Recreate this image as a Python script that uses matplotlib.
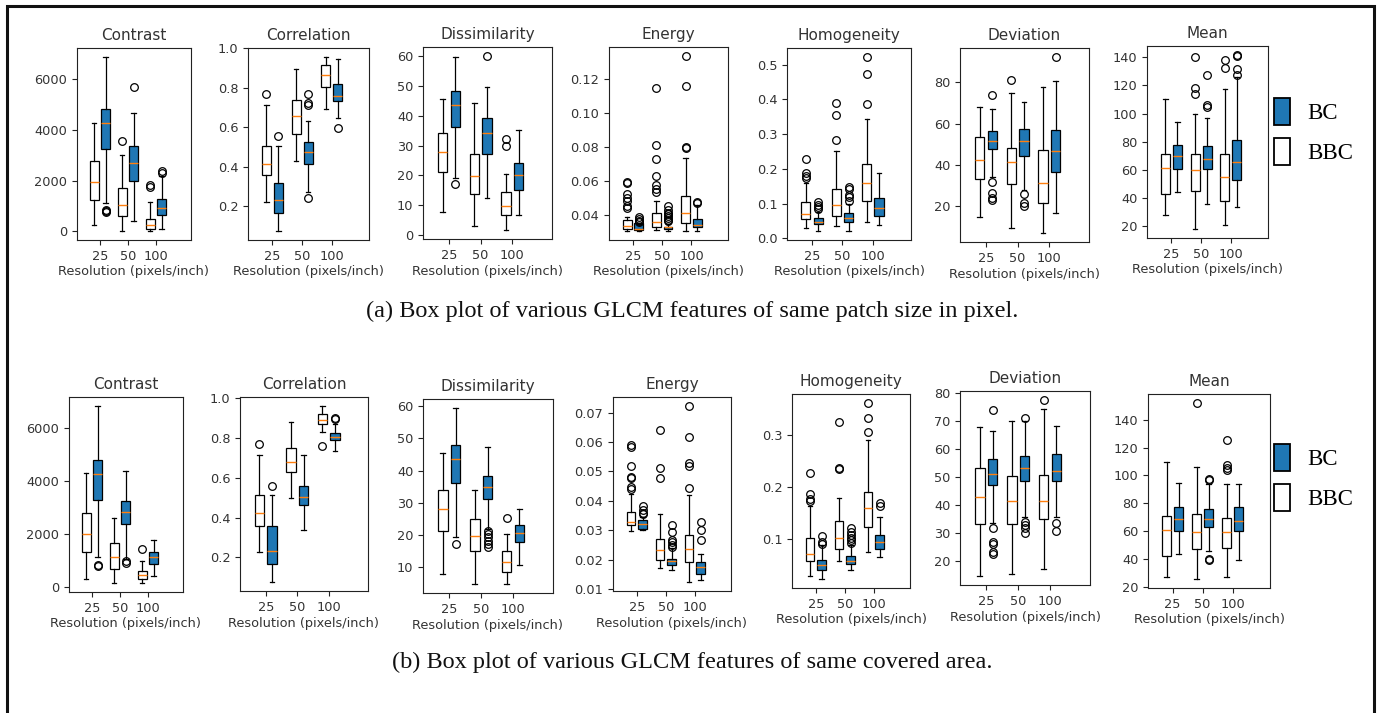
import matplotlib
matplotlib.use("Agg")
import matplotlib.pyplot as plt
from matplotlib.patches import Patch, Rectangle
from matplotlib.ticker import MultipleLocator

# ---- data ----
resolutions = ["25", "50", "100"]
features = ["Contrast", "Correlation", "Dissimilarity", "Energy",
            "Homogeneity", "Deviation", "Mean"]

# each entry: 3 resolutions x [whislo, q1, med, q3, whishi]
# (a) same patch size in pixel
a_bbc = {
  "Contrast":      [[264, 1226, 1951, 2769, 4285], [0, 620, 1042, 1727, 3032], [0, 105, 237, 500, 1160]],
  "Correlation":   [[0.223, 0.357, 0.416, 0.508, 0.711], [0.428, 0.569, 0.660, 0.739, 0.897], [0.694, 0.805, 0.866, 0.917, 0.958]],
  "Dissimilarity": [[7.6, 21.1, 27.8, 34.4, 45.8], [3.1, 13.8, 19.9, 27.3, 44.2], [1.6, 6.6, 9.9, 14.6, 20.5]],
  "Energy":        [[0.0303, 0.0319, 0.0331, 0.0368, 0.0385], [0.0313, 0.0327, 0.0358, 0.041, 0.048], [0.0307, 0.0354, 0.041, 0.0511, 0.0736]],
  "Homogeneity":   [[0.028, 0.055, 0.070, 0.103, 0.160], [0.035, 0.065, 0.096, 0.143, 0.252], [0.047, 0.107, 0.160, 0.215, 0.344]],
  "Deviation":     [[14.6, 33.1, 42.6, 53.5, 67.9], [9.4, 30.6, 41.3, 48.3, 74.8], [6.9, 21.6, 31.1, 47.0, 77.7]],
  "Mean":          [[27.8, 42.8, 61.1, 71.3, 110.3], [17.6, 45.2, 59.9, 71.3, 99.8], [20.5, 37.8, 54.7, 71.3, 117.4]],
}
a_bc = {
  "Contrast":      [[1134, 3243, 4258, 4838, 6895], [420, 2000, 2716, 3380, 4680], [105, 633, 936, 1266, 2200]],
  "Correlation":   [[0.074, 0.168, 0.232, 0.316, 0.508], [0.271, 0.416, 0.475, 0.526, 0.635], [0.646, 0.733, 0.760, 0.819, 0.949]],
  "Dissimilarity": [[19.0, 36.3, 43.6, 48.4, 59.8], [12.4, 27.3, 34.4, 39.2, 49.8], [6.7, 15.1, 20.0, 24.3, 35.1]],
  "Energy":        [[0.0303, 0.0311, 0.0319, 0.035, 0.0345], [0.0307, 0.0319, 0.0327, 0.033, 0.0345], [0.0303, 0.033, 0.0342, 0.0378, 0.0460]],
  "Homogeneity":   [[0.022, 0.040, 0.048, 0.058, 0.075], [0.020, 0.046, 0.057, 0.073, 0.100], [0.039, 0.065, 0.0875, 0.117, 0.188]],
  "Deviation":     [[34.2, 47.8, 51.6, 56.5, 66.9], [28.0, 44.5, 51.4, 57.3, 70.7], [16.6, 36.7, 46.8, 57.1, 80.5]],
  "Mean":          [[43.8, 60.4, 69.9, 77.7, 94.3], [35.4, 60.4, 67.7, 77.0, 96.7], [33.3, 52.5, 65.6, 81.3, 125.9]],
}
a_bbc_fliers = {
  "Contrast":      [[], [3580], [1760, 1840]],
  "Correlation":   [[0.767], [], []],
  "Dissimilarity": [[], [], [29.9, 32.1]],
  "Energy":        [[0.0442, 0.0454, 0.0481, 0.0497, 0.0521, 0.0585, 0.0595], [0.0537, 0.0555, 0.0575, 0.0632, 0.0728, 0.0815, 0.1146], [0.0793, 0.0803, 0.116, 0.1339]],
  "Homogeneity":   [[0.173, 0.180, 0.188, 0.227], [0.283, 0.354, 0.391], [0.387, 0.473, 0.523]],
  "Deviation":     [[], [81.0], []],
  "Mean":          [[], [113.8, 118.1, 140.0], [132.4, 138.3]],
}
a_bc_fliers = {
  "Contrast":      [[780, 820, 850], [5710], [2320, 2380]],
  "Correlation":   [[0.555], [0.245, 0.711, 0.724, 0.767], [0.596]],
  "Dissimilarity": [[17.2], [60.2], []],
  "Energy":        [[0.0358, 0.0366, 0.0378, 0.0386], [0.0362, 0.0372, 0.0382, 0.0392, 0.0402, 0.041, 0.0426, 0.0454], [0.047, 0.0477]],
  "Homogeneity":   [[0.085, 0.09, 0.095, 0.105], [0.108, 0.119, 0.124, 0.143, 0.148], []],
  "Deviation":     [[22.8, 24.1, 26.5, 31.8, 73.8], [20.3, 21.6, 26.0], [92.4]],
  "Mean":          [[], [105.0, 106.0, 127.6], [127.4, 131.6, 140.7, 141.9]],
}

# (b) same covered area
b_bbc = {
  "Contrast":      [[282, 1308, 1987, 2795, 4300], [128, 667, 1115, 1641, 2600], [128, 282, 423, 577, 962]],
  "Correlation":   [[0.227, 0.357, 0.421, 0.512, 0.715], [0.500, 0.629, 0.682, 0.749, 0.882], [0.832, 0.870, 0.894, 0.921, 0.963]],
  "Dissimilarity": [[8.0, 21.1, 28.0, 34.1, 45.6], [4.7, 14.9, 19.8, 25.0, 34.1], [4.7, 8.6, 11.7, 14.9, 20.3]],
  "Energy":        [[0.0297, 0.0316, 0.0328, 0.0362, 0.0422], [0.0171, 0.0197, 0.0233, 0.0271, 0.0354], [0.0123, 0.0191, 0.0237, 0.0282, 0.0419]],
  "Homogeneity":   [[0.0295, 0.0577, 0.0705, 0.1026, 0.164], [0.0583, 0.080, 0.1026, 0.135, 0.1795], [0.0744, 0.1237, 0.159, 0.191, 0.290]],
  "Deviation":     [[14.4, 33.0, 42.7, 53.2, 67.8], [15.3, 33.0, 41.2, 50.2, 70.0], [17.1, 34.8, 41.2, 50.8, 74.2]],
  "Mean":          [[27.7, 42.5, 60.8, 70.9, 109.8], [25.8, 47.4, 59.6, 72.1, 106.4], [27.7, 48.1, 59.6, 69.7, 93.7]],
}
b_bc = {
  "Contrast":      [[1115, 3295, 4256, 4808, 6859], [1050, 2372, 2846, 3231, 4397], [385, 872, 1115, 1320, 1769]],
  "Correlation":   [[0.075, 0.166, 0.234, 0.357, 0.512], [0.338, 0.464, 0.505, 0.559, 0.715], [0.736, 0.789, 0.808, 0.828, 0.870]],
  "Dissimilarity": [[19.3, 36.2, 43.6, 48.0, 59.5], [22.0, 31.3, 34.9, 38.3, 47.3], [10.7, 17.7, 20.6, 23.2, 28.1]],
  "Energy":        [[0.0299, 0.0305, 0.0322, 0.0333, 0.0345], [0.0163, 0.0183, 0.0195, 0.0202, 0.024], [0.0131, 0.0151, 0.0176, 0.0193, 0.022]],
  "Homogeneity":   [[0.0231, 0.0404, 0.0494, 0.0596, 0.0878], [0.0404, 0.0513, 0.0583, 0.0673, 0.088], [0.0647, 0.080, 0.0936, 0.1077, 0.143]],
  "Deviation":     [[33.6, 46.9, 51.1, 56.4, 66.4], [35.7, 48.4, 53.2, 57.4, 70.0], [35.7, 48.4, 52.2, 58.2, 68.2]],
  "Mean":          [[43.8, 60.6, 69.2, 77.6, 94.4], [46.0, 63.0, 69.2, 76.2, 94.0], [39.7, 60.6, 67.3, 77.6, 93.7]],
}
b_bbc_fliers = {
  "Contrast":      [[], [], [1436]],
  "Correlation":   [[0.769], [], [0.761]],
  "Dissimilarity": [[], [], [25.2]],
  "Energy":        [[0.0439, 0.0447, 0.0476, 0.0482, 0.0518, 0.0582, 0.059], [0.0478, 0.051, 0.0641], [0.0444, 0.0518, 0.0527, 0.0618, 0.0723]],
  "Homogeneity":   [[0.172, 0.176, 0.1865, 0.226], [0.235, 0.237, 0.324], [0.305, 0.332, 0.361]],
  "Deviation":     [[], [], [77.6]],
  "Mean":          [[], [152.0], [103.8, 105.7, 107.4, 125.6]],
}
b_bc_fliers = {
  "Contrast":      [[770, 833], [900, 960], []],
  "Correlation":   [[0.559], [], [0.896, 0.902]],
  "Dissimilarity": [[17.2], [16.4, 17.2, 18.2, 19.3, 20.3, 21.2], []],
  "Energy":        [[0.0354, 0.0359, 0.0368, 0.0381], [0.0242, 0.0251, 0.0259, 0.0267, 0.0294, 0.0316], [0.0265, 0.030, 0.0328]],
  "Homogeneity":   [[0.090, 0.095, 0.106], [0.0917, 0.098, 0.1026, 0.1077, 0.114, 0.1205], [0.164, 0.170]],
  "Deviation":     [[22.3, 23.1, 26.1, 26.7, 31.8, 73.8], [29.7, 31.5, 32.7, 33.9, 71.0], [30.7, 33.6]],
  "Mean":          [[], [39.2, 40.4, 96.8, 97.8], []],
}

# y tick steps per panel
a_ystep = [2000, 0.2, 10, 0.02, 0.1, 20, 20]
b_ystep = [2000, 0.2, 10, 0.01, 0.1, 10, 20]

# ---- layout (pixel boxes: left, top, right, bottom) ----
W, H = 1385, 713
a_boxes = [(77, 48, 191, 240), (248, 48, 369, 240), (423, 47, 552, 239), (609, 47, 728, 240),
           (787, 48, 911, 240), (960, 48, 1089, 242), (1147, 46, 1268, 238)]
b_boxes = [(69, 397, 183, 592), (240, 397, 368, 591), (423, 399, 553, 593), (613, 397, 731, 591),
           (792, 394, 910, 588), (960, 391, 1090, 585), (1148, 394, 1270, 588)]

BLUE = "#1f77b4"
ORANGE = "#ff7f0e"
TXT = "#333333"

plt.rcParams["font.family"] = ["DejaVu Sans"]
plt.rcParams["axes.edgecolor"] = "#222222"
plt.rcParams["xtick.color"] = "#222222"
plt.rcParams["ytick.color"] = "#222222"
plt.rcParams["xtick.labelcolor"] = TXT
plt.rcParams["ytick.labelcolor"] = TXT


def to_stats(rows, fliers):
  out = []
  for r, f in zip(rows, fliers):
    out.append(dict(whislo=r[0], q1=r[1], med=r[2], q3=r[3], whishi=r[4], fliers=f))
  return out


def draw_panel(ax, name, bbc, bc, bbc_f, bc_f, step):
  pos = [1, 2, 3]
  common = dict(widths=0.3, patch_artist=True, manage_ticks=False,
                whiskerprops=dict(color="black", lw=0.9),
                capprops=dict(color="black", lw=0.9),
                medianprops=dict(color=ORANGE, lw=1.0),
                flierprops=dict(marker="o", markerfacecolor="none", markeredgecolor="black",
                                markersize=5.5, markeredgewidth=0.9))
  ax.bxp(to_stats(bbc, bbc_f), positions=[p - 0.2 for p in pos],
         boxprops=dict(facecolor="white", edgecolor="black", lw=0.9), **common)
  ax.bxp(to_stats(bc, bc_f), positions=[p + 0.2 for p in pos],
         boxprops=dict(facecolor=BLUE, edgecolor="black", lw=0.9), **common)
  ax.set_xlim(0.18, 4.25)
  ax.set_xticks(pos)
  ax.set_xticklabels(resolutions)
  ax.yaxis.set_major_locator(MultipleLocator(step))
  ax.tick_params(labelsize=9.3, width=0.8, length=3.5)
  ax.set_title(name, fontsize=11, color=TXT)
  ax.set_xlabel("Resolution (pixels/inch)", fontsize=9.3, color=TXT, labelpad=2)


fig = plt.figure(figsize=(W / 100, H / 100), dpi=100)

for i, name in enumerate(features):
  for boxes, bbc, bc, bbc_f, bc_f, steps in [
      (a_boxes, a_bbc, a_bc, a_bbc_fliers, a_bc_fliers, a_ystep),
      (b_boxes, b_bbc, b_bc, b_bbc_fliers, b_bc_fliers, b_ystep)]:
    l, t, r, b = boxes[i]
    ax = fig.add_axes([l / W, 1 - b / H, (r - l) / W, (b - t) / H])
    draw_panel(ax, name, bbc[name], bc[name], bbc_f[name], bc_f[name], steps[i])

# legends on the right
handles = [Patch(facecolor=BLUE, edgecolor="black", lw=1.3, label="BC"),
           Patch(facecolor="white", edgecolor="black", lw=1.3, label="BBC")]
for ytop in [82 / H, 428 / H]:
  fig.legend(handles=handles, loc="upper left", bbox_to_anchor=(1258 / W, 1 - ytop),
             frameon=False, prop=dict(family="Liberation Serif", size=16.5),
             handlelength=0.7, handleheight=1.4, labelspacing=0.6, handletextpad=0.75,
             borderpad=0.2)

# captions
fig.text(0.5, 1 - 311 / H, "(a) Box plot of various GLCM features of same patch size in pixel.",
         ha="center", va="center", family="Liberation Serif", fontsize=17.5, color="#111111")
fig.text(0.5, 1 - 662 / H, "(b) Box plot of various GLCM features of same covered area.",
         ha="center", va="center", family="Liberation Serif", fontsize=17.5, color="#111111")

# outer frame
fig.add_artist(Rectangle((7 / W, -0.05), (1374 - 7) / W, 1.05 - 6 / H, transform=fig.transFigure,
                         fill=False, edgecolor="#111111", lw=2.2))

fig.savefig("out.png", dpi=100)
